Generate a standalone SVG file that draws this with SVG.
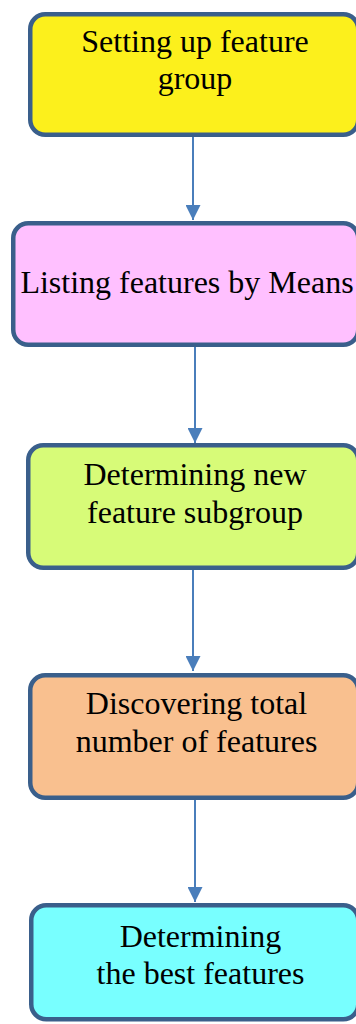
<svg xmlns="http://www.w3.org/2000/svg" width="356" height="1024" viewBox="0 0 356 1024">
  <style>
    .box { stroke: #3a5f8b; stroke-width: 4.5; }
    .label { font-family: "Liberation Serif", "Times New Roman", serif; font-size: 32px; fill: #000; text-anchor: middle; }
    .conn { stroke: #4a7ebb; stroke-width: 2; fill: none; marker-end: url(#arrow); }
  </style>
  <defs>
    <marker id="arrow" viewBox="0 0 15 15" refX="15" refY="7.5" markerWidth="15" markerHeight="15" markerUnits="userSpaceOnUse" orient="auto">
      <path d="M0,0 L15,7.5 L0,15 Z" fill="#4a7ebb"/>
    </marker>
  </defs>
  <rect width="356" height="1024" fill="#ffffff"/>

  <g id="connectors">
    <line class="conn" x1="193" y1="137" x2="193" y2="220"/>
    <line class="conn" x1="195" y1="347" x2="195" y2="443"/>
    <line class="conn" x1="193" y1="570" x2="193" y2="671"/>
    <line class="conn" x1="195" y1="800" x2="195" y2="902"/>
  </g>

  <g id="setup-group">
    <rect class="box" x="30.25" y="14.25" width="328" height="120.5" rx="15" fill="#fcf01c"/>
    <text class="label" x="195" y="52">Setting up feature</text>
    <text class="label" x="195" y="89">group</text>
  </g>

  <g id="list-means">
    <rect class="box" x="13.25" y="223.25" width="345" height="121.5" rx="15" fill="#ffc0ff"/>
    <text class="label" x="187" y="293">Listing features by Means</text>
  </g>

  <g id="new-subgroup">
    <rect class="box" x="28.25" y="445.25" width="330" height="122.5" rx="15" fill="#d7fb78"/>
    <text class="label" x="195" y="485">Determining new</text>
    <text class="label" x="195" y="523">feature subgroup</text>
  </g>

  <g id="total-features">
    <rect class="box" x="30.25" y="675.25" width="328" height="122.5" rx="15" fill="#f9c08f"/>
    <text class="label" x="196.5" y="714">Discovering total</text>
    <text class="label" x="196.5" y="752">number of features</text>
  </g>

  <g id="best-features">
    <rect class="box" x="31.25" y="905.25" width="327" height="114" rx="15" fill="#78ffff"/>
    <text class="label" x="200.5" y="947">Determining</text>
    <text class="label" x="200.5" y="984">the best features</text>
  </g>
</svg>
